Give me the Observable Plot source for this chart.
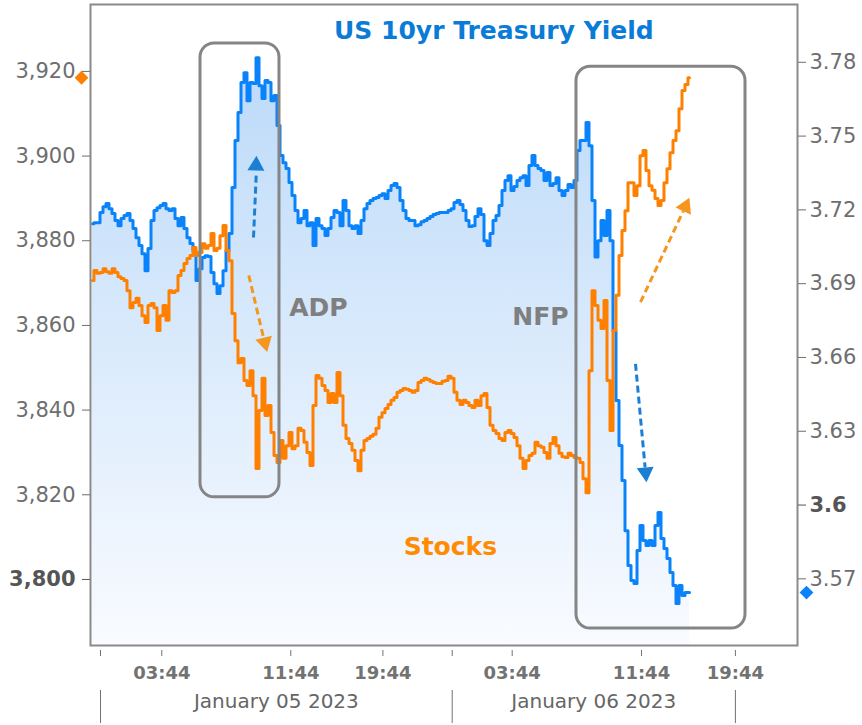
<!DOCTYPE html>
<html><head><meta charset="utf-8">
<script src="https://cdn.jsdelivr.net/npm/d3@7"></script>
<script src="https://cdn.jsdelivr.net/npm/@observablehq/plot@0.6"></script>
<style>html,body{margin:0;padding:0;background:#fff;} svg{display:block}</style>
</head><body><div id="chart"></div>
<script>
// S&P futures (left axis), sampled bar by bar
const stocks = [3870.6,3873.0,3872.3,3872.5,3873.4,3872.7,3872.3,3873.4,3872.5,3871.5,
 3871.1,3870.6,3868.2,3864.2,3865.4,3866.4,3864.7,3862.3,3860.7,3864.7,
 3865.2,3864.2,3858.8,3862.3,3864.7,3861.2,3868.2,3867.8,3868.2,3871.8,
 3873.0,3874.6,3875.8,3876.5,3878.4,3876.5,3877.2,3879.3,3878.2,3878.9,
 3881.7,3877.7,3878.2,3881.2,3883.6,3877.7,3875.3,3862.8,3856.4,3851.2,
 3852.2,3847.0,3845.8,3849.3,3843.4,3826.2,3839.9,3847.5,3838.7,3841.1,
 3834.7,3829.3,3827.6,3832.8,3828.6,3831.6,3834.7,3830.9,3831.6,3835.7,
 3835.2,3832.4,3830.0,3826.9,3841.1,3848.2,3847.5,3845.8,3844.6,3841.8,
 3843.9,3841.8,3848.9,3843.4,3836.4,3833.3,3832.1,3830.5,3828.1,3825.7,
 3830.5,3832.8,3833.3,3833.8,3834.3,3835.7,3838.3,3839.4,3840.4,3841.3,
 3842.3,3843.0,3844.2,3844.6,3845.1,3844.9,3844.6,3844.2,3844.6,3846.5,
 3847.0,3847.5,3847.2,3846.8,3846.5,3846.3,3846.3,3846.8,3847.0,3848.0,
 3847.5,3844.2,3842.3,3841.3,3842.3,3841.8,3841.1,3840.6,3842.3,3841.1,
 3843.4,3843.9,3840.6,3836.4,3835.2,3834.5,3833.3,3832.8,3834.7,3835.2,
 3834.5,3833.5,3831.6,3828.6,3826.2,3828.1,3829.3,3829.8,3832.4,3831.6,
 3831.2,3830.0,3828.6,3832.1,3833.5,3831.6,3829.8,3829.0,3828.8,3829.8,
 3829.3,3828.8,3828.6,3827.6,3823.8,3820.5,3849.3,3868.2,3864.7,3861.2,
 3859.3,3865.9,3847.0,3835.2,3858.8,3867.1,3876.5,3882.4,3887.1,3893.7,
 3893.7,3890.7,3893.0,3900.1,3901.3,3896.6,3893.0,3891.9,3890.0,3888.3,
 3889.5,3893.7,3897.0,3900.8,3903.7,3906.0,3911.2,3915.5,3916.9,3918.5];

// US 10yr Treasury yield (right axis), same bars
const yields = [3.7144,3.7148,3.7148,3.7189,3.7213,3.7226,3.7205,3.7185,3.7157,3.7136,
 3.7165,3.7177,3.7185,3.7157,3.7124,3.7087,3.7055,3.7022,3.6953,3.7043,
 3.7157,3.7197,3.7209,3.7218,3.7226,3.7205,3.7197,3.7205,3.7165,3.7136,
 3.7169,3.7124,3.7087,3.7063,3.7035,3.6913,3.6961,3.7006,3.7014,3.7010,
 3.6945,3.6900,3.6860,3.6892,3.6953,3.7035,3.7104,3.7291,3.7482,3.7596,
 3.7718,3.7758,3.7644,3.7718,3.7714,3.7819,3.7705,3.7653,3.7726,3.7718,
 3.7644,3.7665,3.7543,3.7421,3.7392,3.7368,3.7311,3.7258,3.7197,3.7148,
 3.7165,3.7197,3.7136,3.7148,3.7055,3.7165,3.7136,3.7124,3.7096,3.7124,
 3.7169,3.7197,3.7189,3.7136,3.7238,3.7197,3.7136,3.7124,3.7136,3.7104,
 3.7157,3.7205,3.7226,3.7238,3.7246,3.7250,3.7258,3.7266,3.7246,3.7279,
 3.7299,3.7307,3.7291,3.7238,3.7197,3.7165,3.7157,3.7157,3.7136,3.7140,
 3.7152,3.7157,3.7165,3.7173,3.7181,3.7185,3.7189,3.7189,3.7189,3.7197,
 3.7205,3.7230,3.7238,3.7222,3.7197,3.7157,3.7132,3.7136,3.7173,3.7205,
 3.7181,3.7075,3.7055,3.7104,3.7157,3.7177,3.7218,3.7279,3.7319,3.7339,
 3.7279,3.7295,3.7319,3.7331,3.7339,3.7299,3.7380,3.7421,3.7380,3.7368,
 3.7360,3.7319,3.7352,3.7299,3.7307,3.7331,3.7279,3.7258,3.7279,3.7303,
 3.7291,3.7319,3.7441,3.7482,3.7482,3.7555,3.7461,3.7238,3.7008,3.7075,
 3.7157,3.7096,3.7197,3.7075,3.6709,3.6425,3.6242,3.6100,3.5896,3.5754,
 3.5693,3.5681,3.5815,3.5917,3.5856,3.5836,3.5856,3.5836,3.5917,3.5970,
 3.5864,3.5823,3.5783,3.5726,3.5673,3.5600,3.5673,3.5632,3.5644,3.5644];

const leftTicks = [3820, 3840, 3860, 3880, 3900, 3920];
const leftBoldTicks = [3800];
const rightTicks = [3.57, 3.63, 3.66, 3.69, 3.72, 3.75, 3.78];
const rightBoldTicks = [3.6];
const timeTickPos = [23.1, 66.1, 96.8, 139.9, 183.0, 214.3];
const timeTickLabels = ["03:44", "11:44", "19:44", "03:44", "11:44", "19:44"];
const dayBreaks = [2.67, 119.9, 214.3];
const dayLabels = ["January 05 2023", "January 06 2023"];

const stockDomain = [3784.4, 3935.8];
const yieldDomain = [3.5429, 3.8035];
const xDomain = [-0.667, 235];

const labels = [
  {text: "US 10yr Treasury Yield", x: 133.8, y: 3929.6, color: "#0a7bd6"},
  {text: "ADP", x: 75.3, y: 3864.2, color: "#7f7f7f"},
  {text: "NFP", x: 149.3, y: 3861.9, color: "#7f7f7f"},
  {text: "Stocks", x: 119.3, y: 3807.6, color: "#ff8c00"}
];
const boxes = [
  {x1: 36.0, x2: 62.33, y1: 3819.4, y2: 3926.6},
  {x1: 161.33, x2: 217.67, y1: 3788.4, y2: 3921.1}
];
const arrows = [
  {x1: 53.67, y1: 3880.76, x2: 54.6, y2: 3896.1, hx: 54.53, hy: 3897.76, angle: 2, color: "#1b7fd3"},
  {x1: 52.1, y1: 3871.8, x2: 57.03, y2: 3857.05, hx: 57.43, hy: 3855.96, angle: 166, color: "#f5961e"},
  {x1: 182.67, y1: 3865.5, x2: 196.9, y2: 3886.99, hx: 197.6, hy: 3888.05, angle: 25, color: "#f5961e"},
  {x1: 181.0, y1: 3850.94, x2: 184.2, y2: 3826.45, hx: 184.37, hy: 3825.27, angle: 175, color: "#1b7fd3"}
];

const toLeft = d3.scaleLinear(yieldDomain, stockDomain);
const rows = stocks.map((s, i) => ({i, s, yl: yields[i], ys: toLeft(yields[i])}));
const last = rows[rows.length - 1];
const timeLabelMap = new Map(timeTickPos.map((p, i) => [p, timeTickLabels[i]]));
const yFmt = d3.format("~g");
const rightLabel = d => yFmt(Math.round(toLeft.invert(d) * 100) / 100);

const gradient = () => {
  const ns = "http://www.w3.org/2000/svg";
  const defs = document.createElementNS(ns, "defs");
  defs.innerHTML = '<linearGradient id="blueFill" x1="0" y1="0" x2="0" y2="1">' +
    '<stop offset="0" stop-color="#bcdaf9"/><stop offset="1" stop-color="#f9fbff"/></linearGradient>';
  return defs;
};

const font = "DejaVu Sans";
const chart = Plot.plot({
  width: 862, height: 725,
  marginLeft: 90, marginRight: 65, marginTop: 4, marginBottom: 80,
  style: {fontFamily: font, background: "#fff", overflow: "visible"},
  x: {domain: xDomain, axis: null},
  y: {domain: stockDomain, axis: null},
  color: {type: "identity"},
  marks: [
    gradient,
    Plot.areaY(rows, {x: "i", y1: () => stockDomain[0], y2: "ys", fill: "url(#blueFill)", curve: "step"}),
    Plot.line(rows, {x: "i", y: "ys", stroke: "#0a82fa", strokeWidth: 3, curve: "step"}),
    Plot.line(rows, {x: "i", y: "s", stroke: "#ff8000", strokeWidth: 3, curve: "step"}),
    Plot.rect(boxes, {x1: "x1", x2: "x2", y1: "y1", y2: "y2", rx: 14, fill: "none", stroke: "#858585", strokeWidth: 3}),
    Plot.link(arrows, {x1: "x1", y1: "y1", x2: "x2", y2: "y2", stroke: "color", strokeWidth: 3, strokeDasharray: "7,4"}),
    Plot.dot(arrows, {x: "hx", y: "hy", symbol: "triangle", r: 6.3, fill: "color", stroke: "none", rotate: "angle"}),
    Plot.text(labels, {x: "x", y: "y", text: "text", fill: "color", fontSize: 25, fontWeight: "bold"}),
    Plot.frame({stroke: "#8a8a8a", strokeWidth: 2}),
    // diamonds marking last values
    Plot.dot([last], {x: () => xDomain[0], y: "s", dx: -9, symbol: "square", rotate: 45, r: 5.5, fill: "#ff8000", stroke: "none"}),
    Plot.dot([last], {x: () => xDomain[1], y: "ys", dx: 9, symbol: "square", rotate: 45, r: 5.5, fill: "#0a82fa", stroke: "none"}),
    // left axis
    Plot.axisY(leftTicks, {anchor: "left", tickSize: 8, tickPadding: 7, tickFormat: d3.format(","), fontSize: 21, color: "#6e6e6e"}),
    Plot.axisY(leftBoldTicks, {anchor: "left", tickSize: 8, tickPadding: 7, tickFormat: d3.format(","), fontSize: 21, fontWeight: "bold", color: "#555"}),
    // right axis (yield mapped onto left scale)
    Plot.axisY(rightTicks.map(toLeft), {anchor: "right", tickSize: 8, tickPadding: 4, tickFormat: rightLabel, fontSize: 21, color: "#6e6e6e"}),
    Plot.axisY(rightBoldTicks.map(toLeft), {anchor: "right", tickSize: 8, tickPadding: 4, tickFormat: rightLabel, fontSize: 21, fontWeight: "bold", color: "#555"}),
    // time axis
    Plot.axisX(timeTickPos, {anchor: "bottom", tickSize: 6, dy: 5, tickPadding: 10, tickFormat: d => timeLabelMap.get(d), fontSize: 18, fontWeight: "bold", color: "#727272"}),
    Plot.axisX(dayBreaks.slice(0, 2), {anchor: "bottom", tickSize: 6, dy: 5, tickFormat: () => "", color: "#727272"}),
    Plot.axisX(dayBreaks, {anchor: "bottom", tickSize: 33, dy: 45, tickFormat: () => "", color: "#727272"}),
    Plot.text(dayLabels, {x: (d, i) => (dayBreaks[i] + dayBreaks[i + 1]) / 2, frameAnchor: "bottom", dy: 62, text: d => d, fontSize: 20, fill: "#666"})
  ]
});
document.getElementById("chart").appendChild(chart);
</script>
</body></html>
